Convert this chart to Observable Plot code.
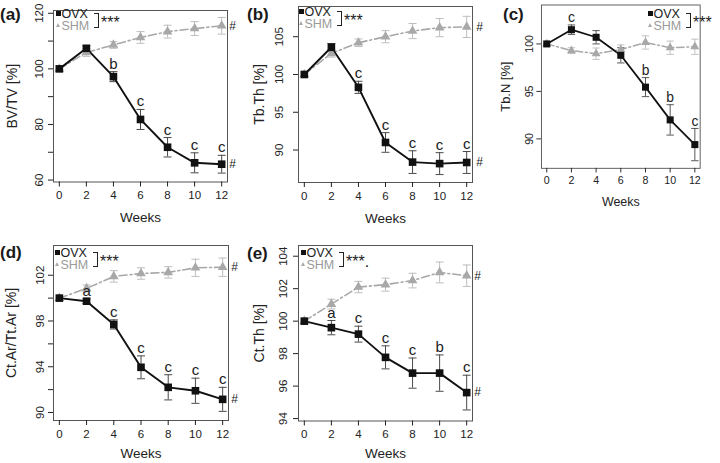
<!DOCTYPE html>
<html>
<head>
<meta charset="utf-8">
<script src="https://cdn.jsdelivr.net/npm/d3@7"></script>
<script src="https://cdn.jsdelivr.net/npm/@observablehq/plot@0.6"></script>
<style>
  html, body { margin: 0; padding: 0; background: #fff; overflow: hidden; }
  #fig { position: relative; width: 720px; height: 463px; font-family: 'Liberation Sans', Arial, Helvetica, sans-serif; color: #1a1a1a; }
  .panel { position: absolute; }
  .tag { position: absolute; font-weight: bold; font-size: 17px; line-height: 17px; }
  .legend { position: absolute; font-size: 12.5px; line-height: 12px; }
  .legend > * { position: absolute; white-space: nowrap; }
  .sq { width: 4.8px; height: 4.8px; background: #111; }
  .tri { width: 0; height: 0; border-left: 2.7px solid transparent; border-right: 2.7px solid transparent; border-bottom: 4.8px solid #aaa; }
  .bracket { border: 1.3px solid #222; border-left: none; width: 3.5px; }
  .stars { font-size: 16px; line-height: 16px; }
</style>
</head>
<body>
<div id="fig"></div>
<script>
// Sampling times (weeks after surgery)
const weeks = [0, 2, 4, 6, 8, 10, 12];
const xTicks = [0, 2, 4, 6, 8, 10, 12];
const groups = ["OVX", "SHM"];

// (a) BV/TV
const bvtvOVX    = [100, 107.4, 97.2, 81.8, 71.8, 66.2, 65.7];
const bvtvOVXErr = [0, 0.9, 1.8, 3.6, 3.5, 3.6, 3.2];
const bvtvSHM    = [100, 105.9, 108.6, 111.3, 113.4, 114.5, 115.5];
const bvtvSHMErr = [0, 1.4, 1.2, 2.1, 2.3, 2.5, 3.0];
const bvtvSig    = ["", "", "b", "c", "c", "c", "c"];
const bvtvTicks  = [60, 70, 80, 90, 100, 110, 120];
const bvtvLabels = [60, 80, 100, 120];

// (b) Tb.Th
const tbthOVX    = [100, 103.6, 98.3, 91.0, 88.4, 88.2, 88.35];
const tbthOVXErr = [0, 0.5, 0.8, 1.3, 1.5, 1.45, 1.45];
const tbthSHM    = [100, 102.8, 104.2, 105.0, 105.75, 106.2, 106.3];
const tbthSHMErr = [0, 0.5, 0.5, 0.8, 1.0, 1.2, 1.4];
const tbthSig    = ["", "", "c", "c", "c", "c", "c"];
const tbthTicks  = [90, 95, 100, 105];
const tbthLabels = [90, 95, 100, 105];

// (c) Tb.N
const tbnOVX    = [100, 101.5, 100.7, 98.8, 95.45, 92.0, 89.4];
const tbnOVXErr = [0, 0.5, 0.7, 0.8, 1.0, 1.6, 1.7];
const tbnSHM    = [100, 99.3, 98.97, 99.4, 100.15, 99.6, 99.7];
const tbnSHMErr = [0, 0.3, 0.6, 0.5, 0.7, 0.7, 0.8];
const tbnSig    = ["", "c", "", "", "b", "b", "c"];
const tbnTicks  = [90, 95, 100];
const tbnLabels = [90, 95, 100];

// (d) Ct.Ar/Tt.Ar
const ctarOVX    = [100, 99.73, 97.7, 93.95, 92.2, 91.9, 91.15];
const ctarOVXErr = [0, 0.2, 0.4, 1.0, 1.1, 1.1, 1.05];
const ctarSHM    = [100, 100.85, 101.9, 102.15, 102.25, 102.65, 102.7];
const ctarSHMErr = [0, 0.3, 0.5, 0.5, 0.5, 0.75, 0.8];
const ctarSig    = ["", "a", "c", "c", "c", "c", "c"];
const ctarTicks  = [90, 92, 94, 96, 98, 100, 102];
const ctarLabels = [90, 94, 98, 102];

// (e) Ct.Th
const ctthOVX    = [100, 99.6, 99.2, 97.77, 96.8, 96.8, 95.6];
const ctthOVXErr = [0, 0.44, 0.49, 0.71, 0.93, 1.12, 1.07];
const ctthSHM    = [100, 101.05, 102.1, 102.25, 102.5, 103.0, 102.8];
const ctthSHMErr = [0, 0.3, 0.35, 0.4, 0.45, 0.64, 0.66];
const ctthSig    = ["", "a", "c", "c", "c", "b", "c"];
const ctthTicks  = [94, 96, 98, 100, 102, 104];
const ctthLabels = [94, 96, 98, 100, 102, 104];

const ovxColor = "#111";
const ovxBarColor = "#4a4a4a";
const shmColor = "#a8a8a8";
const shmBarColor = "#bdbdbd";

// Horizontal cap used at both ends of each error bar
const cap = {
  draw(context, size) {
    const w = Math.sqrt(size / Math.PI);
    context.moveTo(-w, 0);
    context.lineTo(w, 0);
  }
};

const panels = [
  {tag: "(a)", title: "BV/TV [%]", ovx: bvtvOVX, ovxErr: bvtvOVXErr, shm: bvtvSHM, shmErr: bvtvSHMErr, sig: bvtvSig,
   ticks: bvtvTicks, labels: bvtvLabels, yDomain: [59.3, 121], box: [53.3, 10, 174, 171.5],
   titleDx: -41, tickPad: 6, weeksDy: 36, hash: true, hashDx: 11, stars: "***",
   tagPos: [0, 6], legend: [56, 18]},
  {tag: "(b)", title: "Tb.Th [%]", ovx: tbthOVX, ovxErr: tbthOVXErr, shm: tbthSHM, shmErr: tbthSHMErr, sig: tbthSig,
   ticks: tbthTicks, labels: tbthLabels, yDomain: [85.7, 109], box: [297.5, 6, 174, 176],
   titleDx: -38.5, tickPad: 11, weeksDy: 36, hash: true, hashDx: 13, stars: "***",
   tagPos: [247, 6], legend: [299, 16]},
  {tag: "(c)", title: "Tb.N [%]", ovx: tbnOVX, ovxErr: tbnOVXErr, shm: tbnSHM, shmErr: tbnSHMErr, sig: tbnSig,
   ticks: tbnTicks, labels: tbnLabels, yDomain: [86.9, 104.1], box: [545, 5, 172, 177],
   titleDx: -39, tickPad: 4, weeksDy: 37, hash: false, hashDx: 0, stars: "***",
   tagPos: [503, 6], legend: [648, 18]},
  {tag: "(d)", title: "Ct.Ar/Tt.Ar [%]", ovx: ctarOVX, ovxErr: ctarOVXErr, shm: ctarSHM, shmErr: ctarSHMErr, sig: ctarSig,
   ticks: ctarTicks, labels: ctarLabels, yDomain: [89.3, 104.6], box: [53.3, 245, 175, 175],
   titleDx: -42, tickPad: 5, weeksDy: 33, hash: true, hashDx: 12, stars: "***",
   tagPos: [0, 244], legend: [55, 257]},
  {tag: "(e)", title: "Ct.Th [%]", ovx: ctthOVX, ovxErr: ctthOVXErr, shm: ctthSHM, shmErr: ctthSHMErr, sig: ctthSig,
   ticks: ctthTicks, labels: ctthLabels, yDomain: [93.85, 104.66], box: [298.3, 245, 174, 175.5],
   titleDx: -39, tickPad: 7, weeksDy: 33, hash: true, hashDx: 11, stars: "***.",
   tagPos: [247, 245], legend: [301, 257]}
];

const fig = document.getElementById("fig");
const mL = 52, mT = 6, mR = 22, mB = 46;

function drawPanel(p) {
  const rows = weeks.map((w, i) => ({
    week: w, ovx: p.ovx[i], ovxErr: p.ovxErr[i], shm: p.shm[i], shmErr: p.shmErr[i], sig: p.sig[i]
  }));
  const withErr = (k) => rows.filter(d => d[k] > 0);
  const last = rows.filter(d => d.week === weeks[weeks.length - 1]);
  const [bx, by, bw, bh] = p.box;

  const chart = Plot.plot({
    width: bw + mL + mR,
    height: bh + mT + mB,
    marginLeft: mL, marginTop: mT, marginRight: mR, marginBottom: mB,
    x: {domain: [-0.43, 12.43], label: null},
    y: {domain: p.yDomain, label: null},
    style: {background: "transparent", overflow: "visible", color: "#333",
            fontFamily: "'Liberation Sans', Arial, Helvetica, sans-serif", fontSize: "11.5px"},
    marks: [
      Plot.frame({stroke: "#555", strokeWidth: 1}),
      Plot.axisX({ticks: xTicks, tickSize: 5, tickPadding: 4, fontSize: 11.5, color: "#222"}),
      Plot.axisY({ticks: p.ticks, tickFormat: d => p.labels.includes(d) ? String(d) : "",
                  tickRotate: -90, tickSize: 5, tickPadding: p.tickPad, fontSize: 11.5, color: "#222"}),

      // SHM group
      Plot.ruleX(withErr("shmErr"), {x: "week", y1: d => d.shm - d.shmErr, y2: d => d.shm + d.shmErr, stroke: shmBarColor, strokeWidth: 1}),
      Plot.dot(withErr("shmErr"), {x: "week", y: d => d.shm - d.shmErr, symbol: cap, r: 4, fill: "none", stroke: shmBarColor, strokeWidth: 1}),
      Plot.dot(withErr("shmErr"), {x: "week", y: d => d.shm + d.shmErr, symbol: cap, r: 4, fill: "none", stroke: shmBarColor, strokeWidth: 1}),
      Plot.line(rows, {x: "week", y: "shm", stroke: shmColor, strokeWidth: 1.6, strokeDasharray: "8,3,2,3"}),

      // OVX group
      Plot.ruleX(withErr("ovxErr"), {x: "week", y1: d => d.ovx - d.ovxErr, y2: d => d.ovx + d.ovxErr, stroke: ovxBarColor, strokeWidth: 1}),
      Plot.dot(withErr("ovxErr"), {x: "week", y: d => d.ovx - d.ovxErr, symbol: cap, r: 4, fill: "none", stroke: ovxBarColor, strokeWidth: 1}),
      Plot.dot(withErr("ovxErr"), {x: "week", y: d => d.ovx + d.ovxErr, symbol: cap, r: 4, fill: "none", stroke: ovxBarColor, strokeWidth: 1}),
      Plot.line(rows, {x: "week", y: "ovx", stroke: ovxColor, strokeWidth: 1.9}),

      Plot.dot(rows, {x: "week", y: "shm", symbol: "triangle", r: 3.6, fill: shmColor, stroke: "none"}),
      Plot.dot(rows, {x: "week", y: "ovx", symbol: "square", r: 4.3, fill: ovxColor, stroke: "none"}),

      // significance letters above the OVX error bars
      Plot.text(rows.filter(d => d.sig), {x: "week", y: d => d.ovx + d.ovxErr, text: "sig", dy: -3,
                 lineAnchor: "bottom", fontSize: 15, fill: "#222"}),

      // end-of-study marker
      Plot.text(p.hash ? last : [], {x: "week", y: "shm", text: () => "#", dx: p.hashDx, fontSize: 12, fill: "#222"}),
      Plot.text(p.hash ? last : [], {x: "week", y: "ovx", text: () => "#", dx: p.hashDx, fontSize: 12, fill: "#222"}),

      // axis titles
      Plot.text([p.title], {frameAnchor: "left", textAnchor: "middle", lineAnchor: "middle", rotate: -90,
                            dx: p.titleDx, fontSize: 14, fill: "#222"}),
      Plot.text(["Weeks"], {frameAnchor: "bottom", textAnchor: "middle", lineAnchor: "middle",
                            dy: p.weeksDy, fontSize: 13.5, fill: "#222"})
    ]
  });

  const holder = document.createElement("div");
  holder.className = "panel";
  holder.style.left = (bx - mL) + "px";
  holder.style.top = (by - mT) + "px";
  holder.appendChild(chart);
  fig.appendChild(holder);

  // panel tag
  const tag = document.createElement("div");
  tag.className = "tag";
  tag.textContent = p.tag;
  tag.style.left = p.tagPos[0] + "px";
  tag.style.top = p.tagPos[1] + "px";
  fig.appendChild(tag);

  // group key with the significance bracket
  const [lx, lb] = p.legend;
  const lg = document.createElement("div");
  lg.className = "legend";
  lg.style.left = lx + "px";
  lg.style.top = (lb - 10.3) + "px";
  lg.innerHTML =
    `<div class="sq" style="left:0;top:3.8px"></div>` +
    `<span style="left:5.5px;top:0;color:#222">${groups[0]}</span>` +
    `<div class="tri" style="left:-0.3px;top:15.8px"></div>` +
    `<span style="left:5.5px;top:12px;color:#9a9a9a">${groups[1]}</span>` +
    `<div class="bracket" style="left:38px;top:5.6px;height:12.7px"></div>` +
    `<span class="stars" style="left:45px;top:7.2px;color:#222">${p.stars}</span>`;
  fig.appendChild(lg);
}

panels.forEach(drawPanel);
</script>
</body>
</html>
